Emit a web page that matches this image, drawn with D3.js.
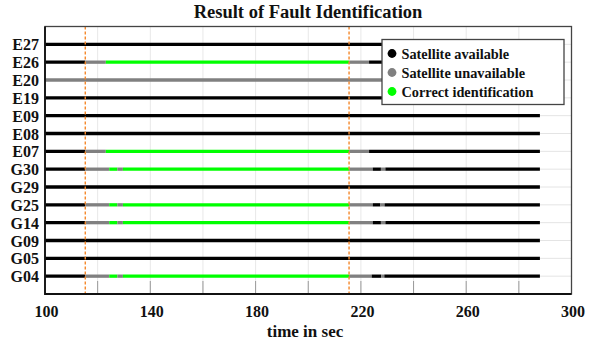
<!DOCTYPE html>
<html>
<head>
<meta charset="utf-8">
<script src="https://cdn.jsdelivr.net/npm/d3@7"></script>
<style>
  body { margin: 0; background: #fff; }
</style>
</head>
<body>
<script>
// satellites, top to bottom
var satellites = ["E27", "E26", "E20", "E19", "E09", "E08", "E07",
                  "G30", "G29", "G25", "G14", "G09", "G05", "G04"];

// fault window (dashed lines)
var faultTimes = [115.3, 215.5];

// segments: [satellite, start, end, status]
var segments = [
  ["E27", 100, 288, "avail"],
  ["E26", 100, 115.3, "avail"], ["E26", 115.3, 123.1, "unavail"], ["E26", 123.1, 215.5, "correct"],
  ["E26", 215.5, 223.1, "unavail"], ["E26", 223.1, 288, "avail"],
  ["E20", 100, 288, "unavail"],
  ["E19", 100, 288, "avail"],
  ["E09", 100, 288, "avail"],
  ["E08", 100, 288, "avail"],
  ["E07", 100, 115.3, "avail"], ["E07", 115.3, 123.1, "unavail"], ["E07", 123.1, 215.5, "correct"],
  ["E07", 215.5, 223.1, "unavail"], ["E07", 223.1, 288, "avail"],
  ["G30", 100, 115.3, "avail"], ["G30", 115.3, 124.4, "unavail"], ["G30", 124.4, 127.5, "correct"],
  ["G30", 127.5, 129.6, "unavail"], ["G30", 129.6, 215.5, "correct"], ["G30", 215.5, 224.5, "unavail"],
  ["G30", 224.5, 227.6, "avail"], ["G30", 227.6, 229.3, "unavail"], ["G30", 229.3, 288, "avail"],
  ["G29", 100, 288, "avail"],
  ["G25", 100, 115.3, "avail"], ["G25", 115.3, 124.4, "unavail"], ["G25", 124.4, 127.5, "correct"],
  ["G25", 127.5, 129.6, "unavail"], ["G25", 129.6, 215.5, "correct"], ["G25", 215.5, 224.5, "unavail"],
  ["G25", 224.5, 227.4, "avail"], ["G25", 227.4, 229.0, "unavail"], ["G25", 229.0, 288, "avail"],
  ["G14", 100, 115.3, "avail"], ["G14", 115.3, 124.4, "unavail"], ["G14", 124.4, 127.5, "correct"],
  ["G14", 127.5, 129.6, "unavail"], ["G14", 129.6, 215.5, "correct"], ["G14", 215.5, 224.5, "unavail"],
  ["G14", 224.5, 227.6, "avail"], ["G14", 227.6, 229.3, "unavail"], ["G14", 229.3, 288, "avail"],
  ["G09", 100, 288, "avail"],
  ["G05", 100, 288, "avail"],
  ["G04", 100, 115.3, "avail"], ["G04", 115.3, 124.4, "unavail"], ["G04", 124.4, 127.5, "correct"],
  ["G04", 127.5, 129.6, "unavail"], ["G04", 129.6, 215.5, "correct"], ["G04", 215.5, 224.1, "unavail"],
  ["G04", 224.1, 227.7, "avail"], ["G04", 227.7, 228.9, "unavail"], ["G04", 228.9, 288, "avail"]
];

var xTickLabels = [100, 140, 180, 220, 260, 300];
var xGrid = [120, 140, 160, 180, 200, 220, 240, 260, 280];

var legendKeys = ["avail", "unavail", "correct"];
var legendLabels = ["Satellite available", "Satellite unavailable", "Correct identification"];
var colours = { avail: "#000000", unavail: "#808080", correct: "#00ff00" };

var width = 591, height = 341;
var margin = { left: 45, right: 19.5, top: 26.5, bottom: 47 };

var svg = d3.select("body").append("svg")
  .attr("width", width)
  .attr("height", height)
  .attr("font-family", "Liberation Serif")
  .attr("font-weight", "bold");

var x = d3.scaleLinear().domain([100, 300]).range([margin.left, width - margin.right]);
var y = d3.scaleLinear().domain([0, satellites.length + 1]).range([margin.top, height - margin.bottom]);
var rowY = function(s) { return y(satellites.indexOf(s) + 1); };

// grid
svg.append("g").selectAll("line")
  .data(satellites).enter().append("line")
    .attr("x1", x(100)).attr("x2", x(300))
    .attr("y1", rowY).attr("y2", rowY)
    .attr("stroke", "#e4e4e4").attr("stroke-width", 1);

svg.append("g").selectAll("line")
  .data(xGrid).enter().append("line")
    .attr("x1", x).attr("x2", x)
    .attr("y1", y(0)).attr("y2", y(15))
    .attr("stroke", "#e8e8e8").attr("stroke-width", 1);

// inner ticks at bottom
svg.append("g").selectAll("line")
  .data(xGrid).enter().append("line")
    .attr("x1", x).attr("x2", x)
    .attr("y1", y(15) - 13).attr("y2", y(15))
    .attr("stroke", "#9a9a9a").attr("stroke-width", 1);

// bars
svg.append("g").selectAll("line")
  .data(segments).enter().append("line")
    .attr("x1", function(d) { return x(d[1]); })
    .attr("x2", function(d) { return x(d[2]); })
    .attr("y1", function(d) { return rowY(d[0]); })
    .attr("y2", function(d) { return rowY(d[0]); })
    .attr("stroke", function(d) { return colours[d[3]]; })
    .attr("stroke-width", 3.3);

// fault lines
svg.append("g").selectAll("line")
  .data(faultTimes).enter().append("line")
    .attr("x1", x).attr("x2", x)
    .attr("y1", y(0)).attr("y2", y(15))
    .attr("stroke", "#f5882a").attr("stroke-width", 1.4)
    .attr("stroke-dasharray", "3,2");

// frame
svg.append("rect")
  .attr("x", x(100)).attr("y", y(0))
  .attr("width", x(300) - x(100)).attr("height", y(15) - y(0))
  .attr("fill", "none").attr("stroke", "#444").attr("stroke-width", 1.3);
svg.append("path")
  .attr("d", "M" + x(100) + "," + y(0) + "V" + y(15) + "H" + x(300))
  .attr("fill", "none").attr("stroke", "#111").attr("stroke-width", 1.8);

// y labels
svg.append("g").selectAll("text")
  .data(satellites).enter().append("text")
    .attr("x", 39).attr("y", rowY).attr("dy", "0.38em")
    .attr("text-anchor", "end")
    .attr("font-size", 16).attr("fill", "#111")
    .text(function(d) { return d; });

// x labels
svg.append("g").selectAll("text")
  .data(xTickLabels).enter().append("text")
    .attr("x", function(d) { return x(d) + 1.5; }).attr("y", 317)
    .attr("text-anchor", "middle")
    .attr("font-size", 16).attr("fill", "#111")
    .text(function(d) { return d; });

svg.append("text")
  .attr("x", 305).attr("y", 337)
  .attr("text-anchor", "middle")
  .attr("font-size", 17).attr("fill", "#111")
  .text("time in sec");

svg.append("text")
  .attr("x", 308).attr("y", 17.5)
  .attr("text-anchor", "middle")
  .attr("font-size", 18.5).attr("fill", "#111")
  .text("Result of Fault Identification");

// legend
var legend = svg.append("g").attr("transform", "translate(382,39.5)");
legend.append("rect")
  .attr("width", 182).attr("height", 65)
  .attr("fill", "#fff").attr("stroke", "#444").attr("stroke-width", 1.3);
var item = legend.selectAll("g.item")
  .data(legendKeys).enter().append("g")
    .attr("class", "item")
    .attr("transform", function(d, i) { return "translate(0," + (14 + i * 19) + ")"; });
item.append("circle")
  .attr("cx", 10).attr("cy", 0).attr("r", 4.4)
  .attr("fill", function(d) { return colours[d]; });
item.append("text")
  .attr("x", 19.5).attr("dy", "0.35em")
  .attr("font-size", 14.3).attr("fill", "#111")
  .text(function(d, i) { return legendLabels[i]; });
</script>
</body>
</html>
